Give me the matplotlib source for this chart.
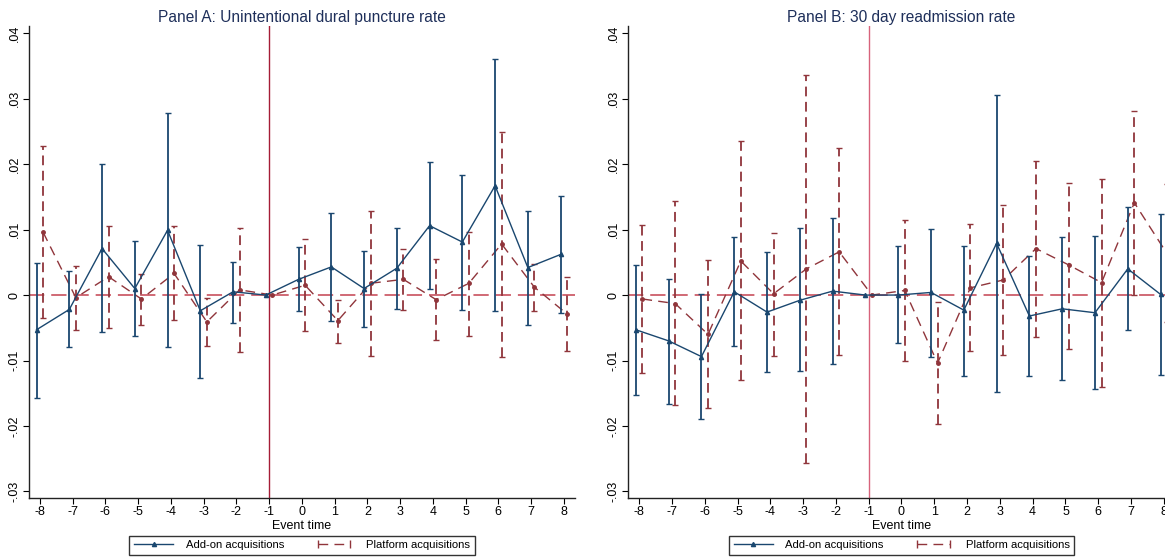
import numpy as np
import matplotlib
matplotlib.use("Agg")
import matplotlib.pyplot as plt
from matplotlib.lines import Line2D
from matplotlib.legend_handler import HandlerLine2D

plt.rcParams['font.family'] = ['Liberation Sans', 'DejaVu Sans']
plt.rcParams['lines.scale_dashes'] = False

event_time = np.arange(-8, 9)

# Panel A: Unintentional dural puncture rate
a_addon = [-0.0053, -0.0022, 0.0071, 0.0010, 0.0099, -0.0024, 0.0005, 0.0, 0.0024, 0.0043,
           0.0010, 0.0041, 0.0106, 0.0081, 0.0167, 0.0042, 0.0062]
a_addon_hi = [0.0049, 0.0037, 0.0200, 0.0082, 0.0278, 0.0077, 0.0051, np.nan, 0.0073, 0.0125,
              0.0068, 0.0103, 0.0204, 0.0184, 0.0361, 0.0129, 0.0152]
a_addon_lo = [-0.0157, -0.0080, -0.0057, -0.0063, -0.0080, -0.0126, -0.0042, np.nan, -0.0025, -0.0039,
              -0.0049, -0.0022, 0.0010, -0.0023, -0.0025, -0.0046, -0.0028]
a_plat = [0.0096, -0.0004, 0.0028, -0.0006, 0.0033, -0.0041, 0.0008, 0.0, 0.0015, -0.0039,
          0.0018, 0.0024, -0.0007, 0.0018, 0.0078, 0.0012, -0.0029]
a_plat_hi = [0.0227, 0.0045, 0.0106, 0.0032, 0.0106, -0.0005, 0.0103, np.nan, 0.0085, -0.0007,
             0.0129, 0.0071, 0.0055, 0.0097, 0.0249, 0.0048, 0.0028]
a_plat_lo = [-0.0035, -0.0053, -0.0050, -0.0045, -0.0038, -0.0078, -0.0087, np.nan, -0.0055, -0.0073,
             -0.0093, -0.0023, -0.0069, -0.0063, -0.0094, -0.0025, -0.0085]

# Panel B: 30 day readmission rate
b_addon = [-0.0053, -0.0070, -0.0094, 0.0005, -0.0026, -0.0008, 0.0006, 0.0, 0.0000, 0.0004,
           -0.0023, 0.0079, -0.0032, -0.0021, -0.0027, 0.0040, 0.0001]
b_addon_hi = [0.0046, 0.0025, 0.0002, 0.0089, 0.0066, 0.0102, 0.0117, np.nan, 0.0075, 0.0101,
              0.0075, 0.0305, 0.0060, 0.0088, 0.0090, 0.0134, 0.0124]
b_addon_lo = [-0.0153, -0.0166, -0.0190, -0.0078, -0.0118, -0.0116, -0.0105, np.nan, -0.0073, -0.0094,
              -0.0124, -0.0148, -0.0124, -0.0130, -0.0144, -0.0053, -0.0122]
b_plat = [-0.0006, -0.0013, -0.0060, 0.0052, 0.0002, 0.0040, 0.0066, 0.0, 0.0007, -0.0104,
          0.0011, 0.0023, 0.0071, 0.0046, 0.0019, 0.0141, 0.0063]
b_plat_hi = [0.0107, 0.0143, 0.0053, 0.0236, 0.0095, 0.0336, 0.0224, np.nan, 0.0114, -0.0010,
             0.0109, 0.0138, 0.0205, 0.0171, 0.0178, 0.0281, 0.0169]
b_plat_lo = [-0.0119, -0.0168, -0.0173, -0.0130, -0.0093, -0.0256, -0.0092, np.nan, -0.0100, -0.0197,
             -0.0086, -0.0092, -0.0064, -0.0082, -0.0141, 0.0000, -0.0041]

titles = ["Panel A: Unintentional dural puncture rate", "Panel B: 30 day readmission rate"]
yticks = [-0.03, -0.02, -0.01, 0, 0.01, 0.02, 0.03, 0.04]
ytick_labels = ["-.03", "-.02", "-.01", "0", ".01", ".02", ".03", ".04"]

NAVY = '#1a476f'
MAROON = '#90353b'
ZERO = '#c4414f'
VLINE = ['#a51c36', '#d7637b']
TITLE = '#1e2f5a'

fig = plt.figure(figsize=(11.65, 5.59), dpi=100)
positions = [[29/1165, 61/559, 546/1165, 472/559],
             [628.3/1165, 61/559, 546.7/1165, 472/559]]

panels = [(a_addon, a_addon_lo, a_addon_hi, a_plat, a_plat_lo, a_plat_hi),
          (b_addon, b_addon_lo, b_addon_hi, b_plat, b_plat_lo, b_plat_hi)]

for i, (ad, adl, adh, pl, pll, plh) in enumerate(panels):
    ax = fig.add_axes(positions[i])
    ad, adl, adh = map(np.array, (ad, adl, adh))
    pl, pll, plh = map(np.array, (pl, pll, plh))
    xa = event_time - 0.1
    xp = event_time + 0.1

    ax.axhline(0, color=ZERO, lw=1.1, dashes=(11, 5), zorder=1)
    ax.axvline(-1, color=VLINE[i], lw=1.0, zorder=1)

    # Add-on acquisitions
    ax.errorbar(xa, ad, yerr=[ad - adl, adh - ad], fmt='none', ecolor=NAVY,
                elinewidth=1.3, capsize=2.3, capthick=1.0, zorder=3)
    ax.plot(xa, ad, color=NAVY, lw=1.0, marker='^', ms=3, zorder=4)

    # Platform acquisitions
    eb2 = ax.errorbar(xp, pl, yerr=[pl - pll, plh - pl], fmt='none', ecolor=MAROON,
                      elinewidth=1.3, capsize=2.3, capthick=1.0, zorder=2)
    for coll in eb2[2]:
        coll.set_linestyle((0, (7, 4)))
    ax.plot(xp, pl, color=MAROON, lw=1.0, dashes=(7, 4.5), marker='o', ms=2.5, zorder=2)

    ax.set_xlim(-8.33, 8.34)
    ax.set_ylim(-0.0310, 0.0411)
    ax.set_xticks(event_time)
    ax.set_xticklabels([str(t) for t in event_time])
    ax.set_yticks(yticks)
    ax.set_yticklabels(ytick_labels, rotation=90, va='center')
    ax.tick_params(axis='both', direction='out', length=4, width=0.8, labelsize=9, pad=2,
                   colors='black')
    for s in ['top', 'right']:
        ax.spines[s].set_visible(False)
    for s in ['left', 'bottom']:
        ax.spines[s].set_linewidth(1.0)
        ax.spines[s].set_color('#222222')
    ax.set_xlabel("Event time", fontsize=9, labelpad=1)
    ax.set_title(titles[i], fontsize=11.2, color=TITLE, pad=3)

    h1 = Line2D([], [], color=NAVY, lw=1.0, marker='^', ms=3)
    h2 = Line2D([], [], color=MAROON, lw=1.0, dashes=(7, 4.5), marker='|', ms=6, mew=1.0)
    leg = ax.legend([h1, h2], ["Add-on acquisitions", "Platform acquisitions"],
                    loc='center', bbox_to_anchor=(0.5, -0.0996), ncol=2, fontsize=8.1,
                    frameon=True, fancybox=False, edgecolor='black', handlelength=3.5,
                    columnspacing=2.7, handletextpad=1.1, borderpad=0.4,
                    handler_map={h1: HandlerLine2D(numpoints=1), h2: HandlerLine2D(numpoints=2)})
    leg.get_frame().set_linewidth(1.0)

fig.savefig("out.png", dpi=100)
